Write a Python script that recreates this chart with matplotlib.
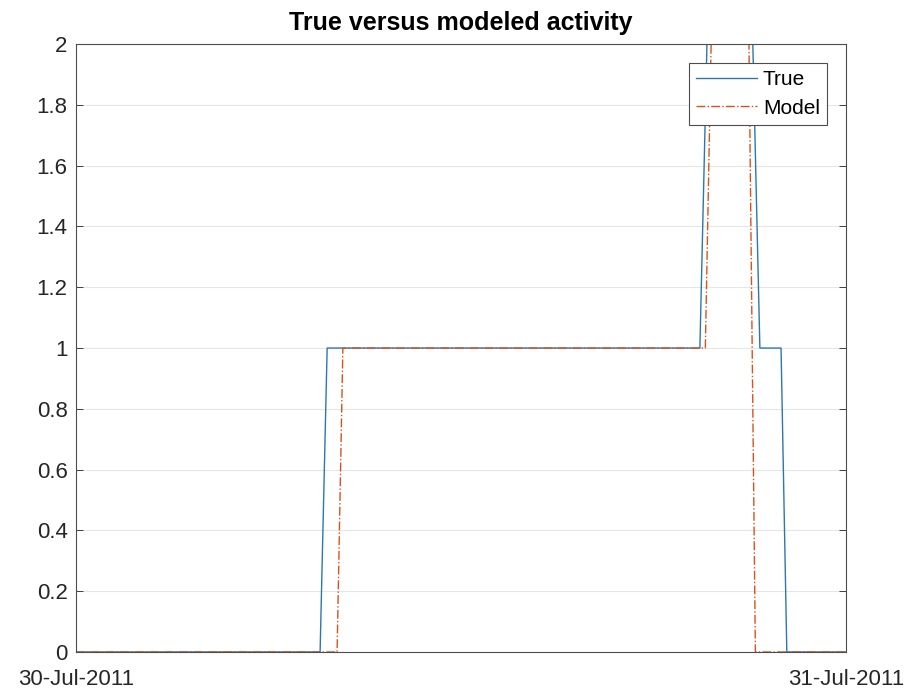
import matplotlib
matplotlib.use('Agg')
import matplotlib.pyplot as plt
from matplotlib.ticker import FuncFormatter
from datetime import datetime, timedelta

plt.rcParams['font.family'] = ['Liberation Sans', 'DejaVu Sans']

day0 = datetime(2011, 7, 30)

# Истинная активность: (часы от начала суток, значение)
true_hours = [0, 7.61, 7.83, 19.45, 19.67, 21.10, 21.32, 21.98, 22.16, 24]
true_vals = [0, 0, 1, 1, 2, 2, 1, 1, 0, 0]

# Модельная активность
model_hours = [0, 8.14, 8.32, 19.62, 19.80, 20.98, 21.18, 24]
model_vals = [0, 0, 1, 1, 2, 2, 0, 0]

x_ticks = [day0, day0 + timedelta(days=1)]
x_labels = ['30-Jul-2011', '31-Jul-2011']
y_ticks = [0, 0.2, 0.4, 0.6, 0.8, 1, 1.2, 1.4, 1.6, 1.8, 2]

t_true = [day0 + timedelta(hours=h) for h in true_hours]
t_model = [day0 + timedelta(hours=h) for h in model_hours]

fig = plt.figure(figsize=(9.1, 6.89), dpi=100)
ax = fig.add_axes([0.0835, 0.0537, 0.846, 0.8823])

ax.plot(t_true, true_vals, color='#2a78ad', lw=1.0, label='True')
ax.plot(t_model, model_vals, color='#D95319', lw=1.0, ls='-.', label='Model')

ax.set_xlim(x_ticks[0], x_ticks[1])
ax.set_ylim(0, 2)
ax.set_xticks(x_ticks)
ax.set_xticklabels(x_labels)
ax.set_yticks(y_ticks)
ax.yaxis.set_major_formatter(FuncFormatter(lambda v, p: '%g' % v))

ax.grid(axis='y', color='#e6e6e6', lw=0.8)
ax.set_axisbelow(True)
ax.tick_params(direction='in', right=True, top=True, labelsize=16,
               colors='#262626', length=5, width=0.6)
ax.tick_params(axis='y', pad=6)
ax.tick_params(axis='x', pad=12)
for s in ax.spines.values():
    s.set_color('#4d4d4d')
    s.set_linewidth(0.8)

ax.set_title('True versus modeled activity', fontsize=18, fontweight='bold', pad=10)
leg = ax.legend(loc='upper right', fontsize=15, fancybox=False, framealpha=1,
                edgecolor='#4d4d4d', borderaxespad=0.9, handlelength=2.9,
                handletextpad=0.3, labelspacing=0.45, borderpad=0.35)
leg.get_frame().set_linewidth(0.8)

fig.savefig('out.png', dpi=100)
